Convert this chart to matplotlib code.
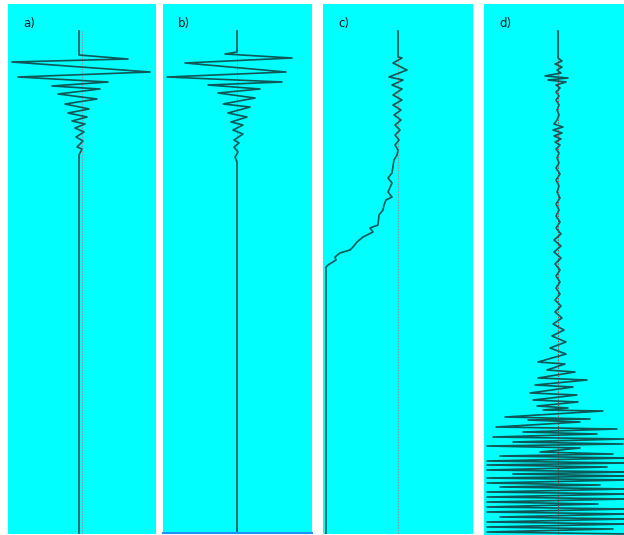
import matplotlib.pyplot as plt

# four seismic traces: time (samples below trace start) and amplitude
labels = ["a)", "b)", "c)", "d)"]

a_t = [0, 24, 28, 31, 41, 46, 51, 55, 58, 63, 68, 73, 78, 82, 86, 90, 93, 97,
       101, 106, 110, 116, 118, 124, 503]
a_amp = [-3, -3, 46, -70, 68, -64, 26, -30, 18, -24, 15, -17, 7, -14, 5, -10, 3, -7,
         2, -6, 1, -5, 0, -3, -3]

b_t = [0, 21, 23, 27, 32, 41, 46, 51, 54, 58, 62, 67, 73, 76, 82, 86, 91, 94,
       99, 103, 109, 112, 116, 121, 126, 131, 501]
b_amp = [0, 0, -12, 55, -52, 49, -70, 45, -29, 23, -19, 18, -14, 13, -9, 10, -6, 6,
         -4, 6, -3, 2, -3, 1, -2, 0, 0]

c_t = [0, 26, 27, 32, 39, 46, 49, 54, 58, 64, 69, 74, 79, 84, 89, 94, 99, 104,
       109, 114, 119, 124, 129, 142, 147, 152, 161, 166, 169, 174, 179, 184, 194,
       197, 201, 206, 211, 216, 219, 222, 226, 229, 234, 236, 503]
c_amp = [0, 0, 4, -5, 9, -9, 5, -6, 4, -5, 4, -5, 3, -4, 3, -3, 2, -3,
         1, -3, 0, -1, -4, -6, -10, -6, -10, -6, -12, -14, -15, -19, -20,
         -28, -25, -35, -41, -45, -48, -58, -63, -62, -70, -72, -72]

d_t = [0, 27, 30, 33, 36, 39, 42, 45, 47, 49, 51, 54, 57, 61, 65, 69, 74, 79,
       84, 89, 93, 96, 99, 102, 105, 108, 111, 114, 118, 122, 127, 132,
       137, 143, 149, 155, 161, 167, 173, 179, 185, 191, 197, 203, 209, 215,
       221, 227, 233, 239, 245, 251, 257, 263, 269, 275, 281, 287, 293, 299,
       305, 311, 317, 323, 327,
       331, 333, 339, 341, 347, 349, 354, 356, 362, 364, 369, 371, 375, 377,
       379, 380, 386, 388, 389, 391, 396, 398, 401, 403, 406, 408, 411, 413,
       415, 417, 421, 423, 425, 427, 430, 432, 434, 436, 439, 441, 443, 445,
       447, 449, 452, 454, 456, 458, 461, 463, 466, 468, 471, 473, 476, 478,
       481, 483, 486, 488, 491, 493, 496, 498, 501, 503]
d_amp = [0, 0, 4, -3, 4, -1, 3, -13, 10, -10, 8, -2, 2, -2, 1, -2, 1, -1,
         1, -1, -4, 5, -5, 4, -4, 3, -3, 2, -2, 1, -1, 1,
         -2, 2, -2, 1, -1, 2, -2, 1, -2, 2, -2, 3, -4, 3,
         -4, 3, -3, 2, -2, 2, -2, 2, -3, 3, -3, 4, -5, 6,
         -6, 8, -8, 8, -6,
         -20, 7, -11, 17, -20, 29, -23, 15, -28, 19, -25, 20, -21, 10,
         -15, 45, -53, 32, -30, 22, -62, 59, -35, 39, -65, 66, -45, 65,
         -71, 22, -18, 55, -58, 70, -71, 70, -71, 49, -71, 70, -45, 70,
         -71, 70, -71, 42, -58, 70, -71, 70, -71, 70, -71, 40, -71, 70,
         -71, 70, -58, 70, -71, 70, -71, 55, -71, 70]

traces = [(a_t, a_amp), (b_t, b_amp), (c_t, c_amp), (d_t, d_amp)]

W, H = 624, 535
# panel boxes in pixels: left, top, right, bottom
boxes = [(8, 4, 156, 534), (163, 4, 312, 533), (323, 4, 473, 534), (484, 4, 624, 535)]
t0 = 31  # pixel row where every trace starts
ref_x = [82, 237, 398, 558]
ref_colors = ["#a08a8a", "#a08a8a", "#a08a8a", "#d03030"]

fig = plt.figure(figsize=(W / 100, H / 100), dpi=100)

for i, (l, top, r, bot) in enumerate(boxes):
    ax = fig.add_axes([l / W, 1 - bot / H, (r - l) / W, (bot - top) / H])
    ax.set_facecolor("#00ffff")
    ax.set_xlim(l - ref_x[i], r - ref_x[i])
    ax.set_ylim(bot - t0, top - t0)
    ax.set_xticks([])
    ax.set_yticks([])
    for s in ax.spines.values():
        s.set_visible(False)
    if i == 1:
        ax.spines["bottom"].set_visible(True)
        ax.spines["bottom"].set_color("#1e90ff")
        ax.spines["bottom"].set_linewidth(1.5)

    ax.vlines(0, 0, bot - t0, colors=ref_colors[i], linestyles=(0, (1.2, 1.2)), lw=0.8)
    t, amp = traces[i]
    ax.plot(amp, t, color="#0e5858", lw=1.2, solid_joinstyle="round")

    ax.text(15 / (r - l), 1 - 20 / (bot - top), labels[i], transform=ax.transAxes,
            fontsize=8.5, color="#1a1a1a", va="center", ha="left")

fig.savefig("out.png", dpi=100)
